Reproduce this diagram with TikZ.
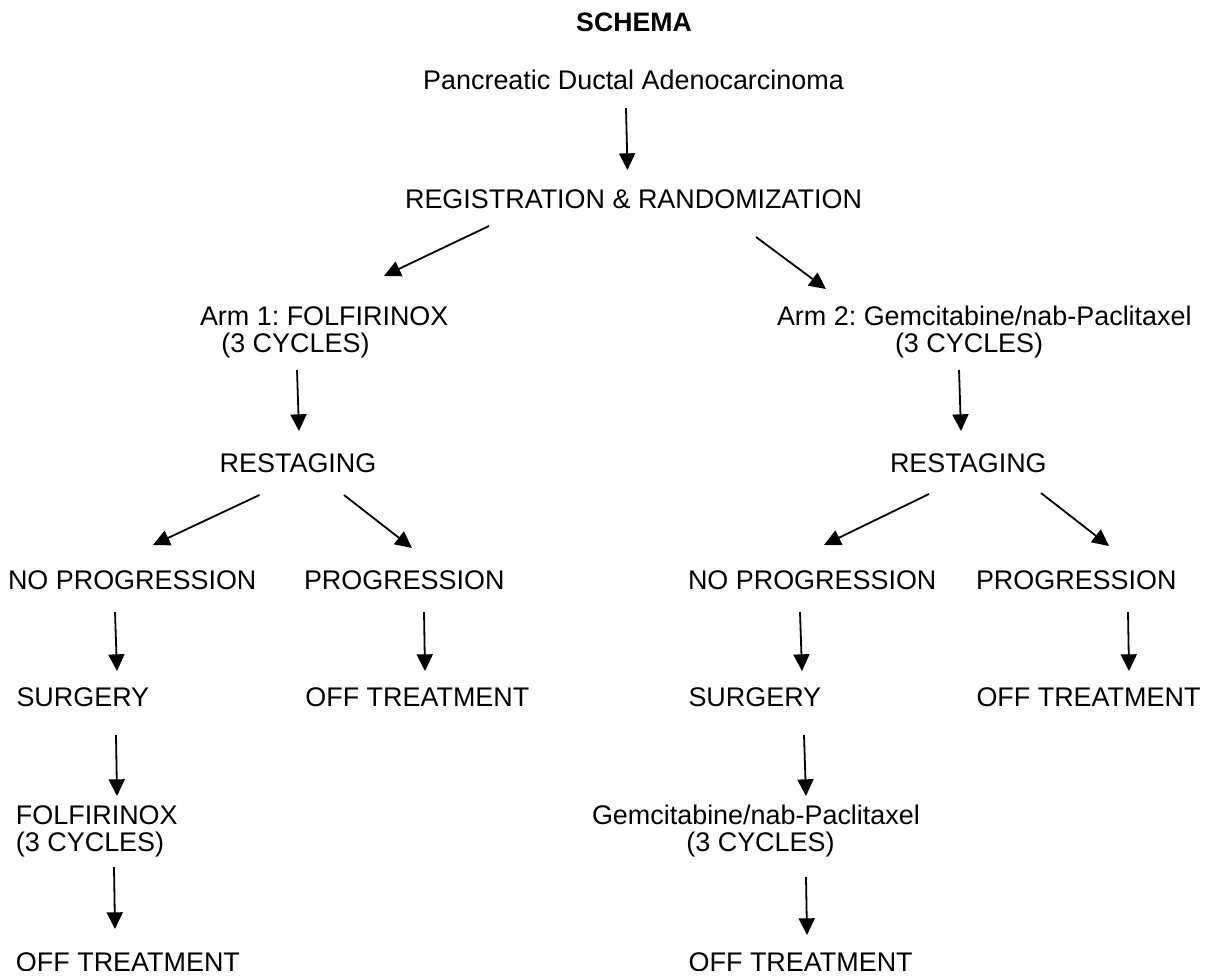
\documentclass[tikz,border=0pt]{standalone}
\usepackage{fontspec}
\setmainfont{Liberation Sans}
\usetikzlibrary{arrows.meta}
\tikzset{
  lbl/.style={inner sep=0pt, outer sep=0pt, font=\fontsize{20.2}{20.3}\selectfont\frenchspacing, anchor=base west},
  clbl/.style={lbl, anchor=base},
  arr/.style={-{Triangle[length=12.5pt,width=12pt]}, line width=1.35pt}
}
\begin{document}
\begin{tikzpicture}[x=0.75pt,y=-0.75pt]
\useasboundingbox (0,0) rectangle (1216,977);
\fill[white] (0,0) rectangle (1216,977);
% nodes
\node[clbl, font=\fontsize{20}{20.3}\selectfont\bfseries] (schema) at (634,32) {SCHEMA};
\node[clbl] (pda) at (633.5,90) {Pancreatic Ductal Adenocarcinoma};
\node[clbl] (reg) at (633.5,208) {REGISTRATION \& RANDOMIZATION};
\node[lbl] (arm1) at (200,325) {\begin{tabular}[t]{@{}l@{}}Arm 1: FOLFIRINOX\\\hspace{16pt}(3 CYCLES)\end{tabular}};
\node[lbl] (arm2) at (777,325) {\begin{tabular}[t]{@{}l@{}}Arm 2: Gemcitabine/nab-Paclitaxel\\\hspace{88.5pt}(3 CYCLES)\end{tabular}};
\node[lbl] (rs1) at (219.7,472) {RESTAGING};
\node[lbl] (rs2) at (890,472) {RESTAGING};
\node[lbl] (np1) at (8,589) {NO PROGRESSION};
\node[lbl] (p1) at (304,589) {PROGRESSION};
\node[lbl] (np2) at (688,589) {NO PROGRESSION};
\node[lbl] (p2) at (976,589) {PROGRESSION};
\node[lbl] (sg1) at (16.5,706) {SURGERY};
\node[lbl] (off1) at (305.4,706) {OFF TREATMENT};
\node[lbl] (sg2) at (688.5,706) {SURGERY};
\node[lbl] (off2) at (976.5,706) {OFF TREATMENT};
\node[lbl] (folf) at (16,824) {\begin{tabular}[t]{@{}l@{}}FOLFIRINOX\\(3 CYCLES)\end{tabular}};
\node[lbl] (gem) at (592,824) {\begin{tabular}[t]{@{}l@{}}Gemcitabine/nab-Paclitaxel\\\hspace{70.8pt}(3 CYCLES)\end{tabular}};
\node[lbl] (off3) at (16,971.5) {OFF TREATMENT};
\node[lbl] (off4) at (688.7,971.5) {OFF TREATMENT};
\fill[white] (0,970.5) rectangle (1216,977);
% connectors
\draw[arr] ([shift={(-7.5,18)}]pda.base) -- ([shift={(-6,-38)}]reg.base);
\draw[arr] ([shift={(-144.5,18)}]reg.base) -- ([shift={(184,-49)}]arm1.base west);
\draw[arr] ([shift={(122.5,29)}]reg.base) -- ([shift={(49,-36)}]arm2.base west);
\draw[arr] ([shift={(97,45)}]arm1.base west) -- ([shift={(79.3,-41)}]rs1.base west);
\draw[arr] ([shift={(182,45)}]arm2.base west) -- ([shift={(71,-41)}]rs2.base west);
\draw[arr] ([shift={(39.8,23)}]rs1.base west) -- ([shift={(145,-44)}]np1.base west);
\draw[arr] ([shift={(124.3,23)}]rs1.base west) -- ([shift={(108,-41)}]p1.base west);
\draw[arr] ([shift={(39,22)}]rs2.base west) -- ([shift={(136,-44)}]np2.base west);
\draw[arr] ([shift={(151,21)}]rs2.base west) -- ([shift={(133,-43)}]p2.base west);
\draw[arr] ([shift={(107,23)}]np1.base west) -- ([shift={(100.5,-35)}]sg1.base west);
\draw[arr] ([shift={(120,23)}]p1.base west) -- ([shift={(119.6,-35)}]off1.base west);
\draw[arr] ([shift={(112,23)}]np2.base west) -- ([shift={(113.5,-35)}]sg2.base west);
\draw[arr] ([shift={(152,23)}]p2.base west) -- ([shift={(152.5,-35)}]off2.base west);
\draw[arr] ([shift={(99.5,29)}]sg1.base west) -- ([shift={(101,-28)}]folf.base west);
\draw[arr] ([shift={(115.5,29)}]sg2.base west) -- ([shift={(214,-28)}]gem.base west);
\draw[arr] ([shift={(98,43)}]folf.base west) -- ([shift={(99,-42.5)}]off3.base west);
\draw[arr] ([shift={(214,53)}]gem.base west) -- ([shift={(118.3,-36.5)}]off4.base west);
\end{tikzpicture}
\end{document}
